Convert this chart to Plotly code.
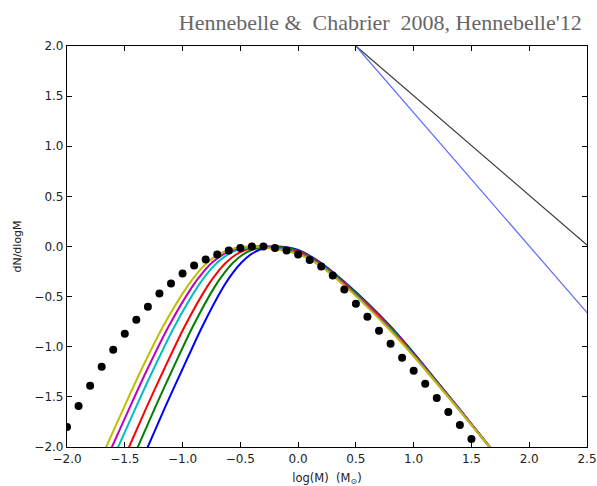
import plotly.graph_objects as go

# ---- data ----
# Black dots (observed IMF)
dot_x = [-2.0, -1.9, -1.8, -1.7, -1.6, -1.5, -1.4, -1.3, -1.2, -1.1, -1.0, -0.9, -0.8, -0.7,
         -0.6, -0.5, -0.4, -0.3, -0.2, -0.1, 0.0, 0.1, 0.2, 0.3, 0.4, 0.5, 0.6, 0.7, 0.8,
         0.9, 1.0, 1.1, 1.2, 1.3, 1.4, 1.5]
dot_y = [-1.80, -1.59, -1.39, -1.20, -1.03, -0.87, -0.73, -0.60, -0.47, -0.37, -0.27, -0.19,
         -0.13, -0.08, -0.04, -0.015, 0.0, 0.0, -0.015, -0.04, -0.08, -0.135, -0.20, -0.29,
         -0.43, -0.57, -0.70, -0.84, -0.97, -1.11, -1.24, -1.37, -1.51, -1.65, -1.78, -1.92]

# Rising side of the model curves: x position read at fixed heights
left_y = [-2.1, -2.0, -1.6, -1.232, -0.8, -0.4, -0.27, -0.16, -0.08, -0.03, -0.005, 0.0]
yellow_left_x = [-1.699, -1.661, -1.505, -1.358, -1.170, -0.960, -0.875, -0.785, -0.690, -0.590, -0.490, -0.390]
magenta_left_x = [-1.649, -1.611, -1.455, -1.308, -1.122, -0.916, -0.832, -0.744, -0.651, -0.554, -0.456, -0.359]
cyan_left_x = [-1.595, -1.557, -1.402, -1.255, -1.071, -0.869, -0.787, -0.699, -0.609, -0.515, -0.420, -0.326]
red_left_x = [-1.501, -1.463, -1.310, -1.163, -0.983, -0.787, -0.707, -0.623, -0.536, -0.447, -0.358, -0.269]
green_left_x = [-1.425, -1.387, -1.235, -1.089, -0.912, -0.721, -0.643, -0.561, -0.477, -0.392, -0.308, -0.223]
blue_left_x = [-1.339, -1.301, -1.150, -1.004, -0.830, -0.645, -0.570, -0.490, -0.410, -0.330, -0.250, -0.170]

# Falling side of the model curves: height read at fixed x positions
right_x = [0.0, 0.2, 0.4, 0.6, 0.8, 1.0, 1.2, 1.4, 1.6, 1.7]
yellow_right_y = [-0.075, -0.200, -0.390, -0.605, -0.840, -1.095, -1.365, -1.640, -1.920, -2.06]
magenta_right_y = [-0.069, -0.195, -0.384, -0.599, -0.834, -1.090, -1.362, -1.638, -1.919, -2.06]
cyan_right_y = [-0.063, -0.189, -0.378, -0.592, -0.827, -1.085, -1.359, -1.636, -1.918, -2.06]
red_right_y = [-0.052, -0.180, -0.368, -0.581, -0.815, -1.076, -1.353, -1.632, -1.917, -2.06]
green_right_y = [-0.043, -0.172, -0.360, -0.572, -0.806, -1.069, -1.348, -1.629, -1.916, -2.06]
blue_right_y = [-0.035, -0.165, -0.352, -0.563, -0.797, -1.061, -1.343, -1.625, -1.915, -2.06]

# Reference power-law slopes
slope_x = [0.5, 2.5]
black_slope_y = [2.0, 0.015]
blue_slope_y = [2.0, -0.66]

x_tick_vals = [-2.0, -1.5, -1.0, -0.5, 0.0, 0.5, 1.0, 1.5, 2.0, 2.5]
y_tick_vals = [-2.0, -1.5, -1.0, -0.5, 0.0, 0.5, 1.0, 1.5, 2.0]

title_text = "Hennebelle &\u00a0 Chabrier\u00a0 2008, Hennebelle'12"
x_title = "log(M)\u00a0 (M<sub>\u2299</sub>)"
y_title = "dN/dlogM"

# drawn blue first, yellow last
curves = [
    ("blue", "#0000FF", blue_left_x, blue_right_y),
    ("green", "#008000", green_left_x, green_right_y),
    ("red", "#FF0000", red_left_x, red_right_y),
    ("cyan", "#00BFBF", cyan_left_x, cyan_right_y),
    ("magenta", "#BF00BF", magenta_left_x, magenta_right_y),
    ("yellow", "#BFBF00", yellow_left_x, yellow_right_y),
]

fig = go.Figure()

fig.add_trace(go.Scatter(x=slope_x, y=black_slope_y, mode="lines",
                         line=dict(color="#3a3a3a", width=1.2), showlegend=False))
fig.add_trace(go.Scatter(x=slope_x, y=blue_slope_y, mode="lines",
                         line=dict(color="#5a6aff", width=1.2), showlegend=False))

for name, col, lx, ry in curves:
    fig.add_trace(go.Scatter(x=lx + right_x, y=left_y + ry, mode="lines", name=name,
                             line=dict(color=col, width=2, shape="spline", smoothing=0.8),
                             showlegend=False))

fig.add_trace(go.Scatter(x=dot_x, y=dot_y, mode="markers",
                         marker=dict(color="black", size=8), showlegend=False))

axis_common = dict(
    showgrid=False, zeroline=False, showline=True, linecolor="black", linewidth=1.2,
    mirror="ticks", ticks="inside", ticklen=5, tickwidth=1, tickcolor="black",
    tickfont=dict(family="DejaVu Sans", size=12, color="#222222"),
    tickformat=".1f", automargin=False,
)

fig.update_layout(
    width=597, height=486,
    margin=dict(l=67, r=10, t=46, b=39),
    paper_bgcolor="white", plot_bgcolor="white",
    title=dict(text=title_text, x=0.637, xanchor="center", y=0.955, yanchor="middle",
               font=dict(family="Liberation Serif", size=22, color="#666666")),
    xaxis=dict(range=[-2.0, 2.5], tickvals=x_tick_vals,
               title=dict(text=x_title, standoff=9,
                          font=dict(family="DejaVu Sans", size=11.5, color="#222222")),
               **axis_common),
    yaxis=dict(range=[-2.0, 2.0], tickvals=y_tick_vals,
               title=dict(text=y_title, standoff=10,
                          font=dict(family="DejaVu Sans", size=11, color="#222222")),
               **axis_common),
)

fig.write_html("out.html")
